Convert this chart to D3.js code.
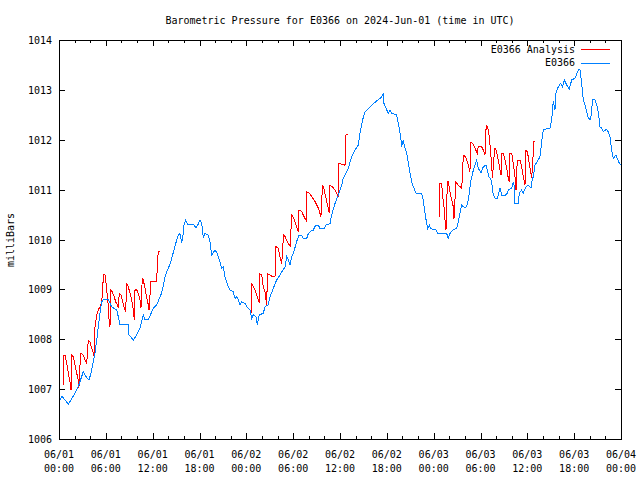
<!DOCTYPE html>
<html>
<head>
<meta charset="utf-8">
<script src="https://cdn.jsdelivr.net/npm/d3@7"></script>
<style>
  body { margin: 0; background: #fff; }
  text { font-family: "DejaVu Sans Mono", "Liberation Mono", monospace; font-size: 10px; fill: #000; }
</style>
</head>
<body>
<svg id="chart" width="640" height="480"></svg>
<script>
const chartTitle = "Barometric Pressure for E0366 on 2024-Jun-01 (time in UTC)";
const seriesNames = ["E0366 Analysis", "E0366"];
const seriesColors = ["#ff0000", "#0080ff"];
const yTicks = [1006, 1007, 1008, 1009, 1010, 1011, 1012, 1013, 1014];
const startTime = Date.UTC(2024, 5, 1);

// observed station pressure, hours since 06/01 00:00 UTC
const obsHours = [
  0, 0.13, 0.38, 1.19, 1.54, 2.05, 2.47, 3.11, 3.33, 3.84, 4.1, 4.61, 4.83, 5.25, 5.47, 5.68,
  6.32, 6.75, 7.39, 7.6, 7.81, 8.88, 8.97, 9.52, 9.95, 10.38, 10.8, 11.02, 11.44, 11.88, 12.08,
  12.52, 13.16, 13.58, 14, 14.22, 14.64, 15.08, 15.27, 15.5, 15.72, 15.93, 16.01, 16.23, 16.44,
  17.21, 17.55, 17.85, 18.06, 18.28, 18.49, 18.7, 19.13, 19.34, 19.56, 19.98, 20.28, 20.63,
  20.84, 21.05, 21.27, 21.69, 21.91, 22.33, 22.55, 22.76, 22.97, 23.19, 23.41, 23.83, 24.05,
  24.47, 24.69, 24.89, 25.24, 25.4, 25.66, 26.17, 26.39, 26.81, 27.03, 27.45, 27.89, 28.31,
  28.53, 28.95, 29.17, 29.38, 29.59, 29.81, 30.02, 30.45, 30.75, 31.09, 31.3, 31.73, 31.94,
  32.37, 32.58, 32.89, 33.22, 33.44, 33.95, 34.2, 34.72, 34.93, 35.36, 35.78, 36.22, 36.42,
  37.06, 37.5, 37.92, 38.34, 38.56, 38.9, 39.2, 39.84, 40.48, 40.87, 41.12, 41.34, 41.55,
  41.63, 41.98, 42.19, 42.4, 42.62, 43.26, 43.47, 43.77, 43.9, 44.11, 44.32, 44.54, 44.75,
  44.97, 45.18, 45.39, 45.74, 46.46, 46.67, 46.89, 47.1, 47.23, 47.44, 47.62, 47.95, 48.3,
  48.51, 49.67, 49.87, 50.09, 50.44, 50.95, 51.15, 51.37, 51.59, 51.79, 52.01, 52.23, 52.43,
  52.56, 52.74, 53.08, 53.51, 53.72, 54.06, 54.36, 54.7, 54.87, 55.09, 55.21, 55.43, 55.64,
  55.86, 56.15, 56.28, 56.5, 56.71, 57.14, 57.43, 57.56, 57.99, 58.2, 58.33, 58.42, 58.84,
  58.97, 59.27, 59.48, 59.83, 60.12, 60.47, 60.56, 60.76, 60.98, 61.27, 61.62, 61.84, 62.04,
  62.68, 62.9, 63.12, 63.32, 63.54, 63.67, 63.96, 64.27, 64.53, 64.73, 65.04, 65.37, 65.68,
  66.1, 66.53, 66.74, 66.96, 67.17, 67.38, 67.6, 67.81, 68.11, 68.37, 68.67, 68.88, 69.09,
  69.31, 69.52, 69.73, 70.16, 70.37, 70.59, 70.8, 71.01, 71.36, 71.52, 71.78, 72
];
const obsPressure = [
  1006.72, 1006.78, 1006.86, 1006.7, 1006.78, 1006.92, 1007.05, 1007.35, 1007.28, 1007.18, 1007.32, 1007.72, 1007.98, 1008.53, 1008.75, 1008.79,
  1008.79, 1008.65, 1008.59, 1008.45, 1008.29, 1008.29, 1008.09, 1007.98, 1008.09, 1008.22, 1008.49, 1008.39, 1008.39, 1008.55, 1008.62,
  1008.69, 1008.93, 1009.25, 1009.43, 1009.5, 1009.74, 1009.99, 1010.09, 1010.12, 1009.93, 1010.12, 1010.29, 1010.39, 1010.31,
  1010.31, 1010.23, 1010.31, 1010.39, 1010.32, 1010.03, 1010.12, 1010.09, 1009.96, 1009.69, 1009.79, 1009.72, 1009.55,
  1009.42, 1009.45, 1009.25, 1009.05, 1008.99, 1008.95, 1008.82, 1008.85, 1008.79, 1008.69, 1008.75, 1008.72, 1008.65,
  1008.59, 1008.42, 1008.49, 1008.45, 1008.29, 1008.49, 1008.52, 1008.65, 1008.69, 1008.85, 1009.02, 1009.19, 1009.29,
  1009.35, 1009.45, 1009.66, 1009.59, 1009.49, 1009.66, 1009.72, 1009.96, 1010.09, 1010.09, 1010.02, 1010.02, 1010.12,
  1010.19, 1010.19, 1010.29, 1010.29, 1010.22, 1010.22, 1010.29, 1010.32, 1010.49, 1010.72, 1010.89, 1011.09, 1011.23,
  1011.43, 1011.66, 1011.79, 1011.89, 1012.13, 1012.4, 1012.55, 1012.65, 1012.75, 1012.8, 1012.83, 1012.86, 1012.93,
  1012.73, 1012.6, 1012.53, 1012.6, 1012.53, 1012.5, 1012.33, 1012.06, 1011.86, 1011.99, 1011.83, 1011.73, 1011.53,
  1011.33, 1011.16, 1011.06, 1010.93, 1010.93, 1010.79, 1010.53, 1010.32, 1010.22, 1010.29, 1010.22, 1010.2, 1010.19,
  1010.12, 1010.12, 1010.02, 1010.12, 1010.19, 1010.22, 1010.36, 1010.53, 1010.69, 1010.66, 1010.63, 1010.66, 1010.79,
  1010.93, 1011.16, 1011.39, 1011.59, 1011.43, 1011.33, 1011.46, 1011.49, 1011.39, 1011.26, 1011.23, 1011.16, 1010.89,
  1010.83, 1010.83, 1010.89, 1011.03, 1010.89, 1010.88, 1010.93, 1010.99, 1011.03, 1011.16, 1011.06, 1010.72, 1010.72,
  1010.93, 1010.99, 1010.93, 1011.06, 1011.09, 1011.03, 1011.16, 1011.26, 1011.49, 1011.56, 1011.66, 1011.96, 1012.2,
  1012.23, 1012.23, 1012.4, 1012.77, 1012.6, 1012.93, 1013.06, 1013.13, 1013.06, 1013.2, 1013.1, 1013.01, 1013.2,
  1013.23, 1013.4, 1013.4, 1013.13, 1012.8, 1012.7, 1012.56, 1012.43, 1012.4, 1012.8, 1012.8, 1012.7, 1012.56,
  1012.26, 1012.23, 1012.16, 1012.21, 1012.16, 1012.06, 1011.79, 1011.63, 1011.69, 1011.63, 1011.53, 1011.5
];

// analysis values (null = no analysis, breaks the line)
const anaHours = [
  0.55, 0.55, 0.77, 0.99, 1.19, 1.41, 1.54, 1.63, 1.83, 2.05, 2.27, 2.47, 2.56, 2.6, 2.82, 3.11,
  3.33, 3.55, 3.75, 3.97, 4.19, 4.39, 4.52, 4.61, 4.83, 5.03, 5.25, 5.47, 5.6, 5.68, 5.89, 5.98,
  6.11, 6.24, 6.32, 6.44, 6.53, 6.66, 6.83, 7.08, 7.26, 7.47, 7.6, 7.72, 7.94, 8.11, 8.33, 8.54,
  8.67, 8.88, 9.1, 9.31, 9.52, 9.65, 9.74, 9.95, 10.16, 10.38, 10.5, 10.67, 10.8, 11.02, 11.23,
  11.44, 11.53, 11.66, 11.75, 12.52, 12.59, 12.72, 12.94, 18,
  24.6, 24.6, 24.81, 25.11, 25.33, 25.53, 25.66, 25.75, 25.97, 26.17, 26.39, 26.52, 26.61,
  26.7, 27.03, 27.38, 27.67, 27.8, 28.09, 28.31, 28.53, 28.66, 28.74, 28.95, 29.25, 29.5,
  29.68, 29.72, 29.81, 30.1, 30.36, 30.66, 30.75, 31.09, 31.39, 31.73, 31.73, 32.07, 32.37,
  32.8, 33.22, 33.56, 33.65, 33.78, 33.99, 34.2, 34.5, 34.63, 34.72, 35.01, 35.36, 35.58,
  35.78, 35.78, 36.22, 36.64, 36.77, 36.98, 42,
  48.72, 48.72, 49.03, 49.15, 49.32, 49.45, 49.58, 49.67, 49.75, 49.87, 50.09, 50.31, 50.51,
  50.6, 50.73, 50.82, 51.15, 51.59, 51.72, 51.79, 52.1, 52.43, 52.65, 52.74, 53, 53.29, 53.59,
  53.72, 54.15, 54.45, 54.57, 54.7, 54.79, 55, 55.13, 55.31, 55.43, 55.56, 55.64, 55.86, 56.07,
  56.28, 56.5, 56.63, 56.71, 56.92, 57.14, 57.35, 57.56, 57.69, 57.78, 57.99, 58.2, 58.42,
  58.55, 58.71, 59.06, 59.27, 59.48, 59.7, 59.83, 59.99, 60.12, 60.34, 60.56, 60.76, 60.85, 60.98
];
const anaPressure = [
  1007.08, 1007.68, 1007.68, 1007.52, 1007.32, 1007.15, 1006.98, 1007.68, 1007.65, 1007.48, 1007.32, 1007.18, 1007.02, 1007.32, 1007.72, 1007.68,
  1007.58, 1007.52, 1007.98, 1007.95, 1007.82, 1007.72, 1007.65, 1008.25, 1008.49, 1008.59, 1008.65, 1008.75, 1008.99, 1009.29, 1009.29, 1009.19,
  1008.99, 1008.79, 1008.65, 1008.32, 1008.25, 1008.99, 1008.95, 1008.85, 1008.75, 1008.69, 1008.62, 1008.92, 1008.89, 1008.79, 1008.65, 1008.55,
  1009.12, 1009.05, 1008.92, 1008.79, 1008.59, 1008.39, 1008.99, 1008.99, 1008.92, 1008.79, 1008.62, 1009.22, 1009.19, 1009.02, 1008.85,
  1008.69, 1008.59, 1008.89, 1009.15, 1009.15, 1009.49, 1009.76, 1009.76, null,
  1008.52, 1009.12, 1009.09, 1008.99, 1008.89, 1008.79, 1008.72, 1009.31, 1009.29, 1009.05, 1008.95, 1008.79, 1008.69,
  1009.31, 1009.29, 1009.25, 1009.25, 1009.86, 1009.82, 1009.66, 1009.52, 1009.79, 1010.09, 1010.06, 1009.96, 1009.89,
  1009.86, 1010.19, 1010.49, 1010.42, 1010.29, 1010.16, 1010.59, 1010.56, 1010.46, 1010.36, 1010.96, 1010.93, 1010.86,
  1010.76, 1010.63, 1010.46, 1010.79, 1011.09, 1010.99, 1010.83, 1010.63, 1010.53, 1011.09, 1011.06, 1010.99, 1010.93,
  1010.86, 1011.53, 1011.51, 1011.49, 1012.1, 1012.1, null,
  1010.46, 1011.13, 1011.13, 1010.86, 1010.66, 1010.39, 1010.19, 1010.66, 1011.16, 1011.16, 1010.96, 1010.79, 1010.66,
  1010.42, 1010.79, 1011.16, 1011.09, 1011.03, 1011.36, 1011.69, 1011.66, 1011.49, 1011.36, 1011.95, 1011.93, 1011.83, 1011.73,
  1011.87, 1011.86, 1011.76, 1011.69, 1012.2, 1012.3, 1012.2, 1012.06, 1011.73, 1011.46, 1011.23, 1011.53, 1011.83, 1011.76,
  1011.59, 1011.39, 1011.29, 1011.73, 1011.73, 1011.59, 1011.43, 1011.23, 1011.16, 1011.73, 1011.73, 1011.53, 1011.26,
  1010.99, 1011.59, 1011.59, 1011.46, 1011.26, 1011.09, 1011.79, 1011.76, 1011.66, 1011.43, 1011.23, 1011.73, 1011.96, 1011.96
];

const svg = d3.select("#chart");
const plot = { left: 59, right: 621, top: 40, bottom: 439 };

svg.append("rect").attr("width", 640).attr("height", 480).attr("fill", "#fff");

const toDate = (h) => new Date(startTime + h * 3600 * 1000);
const x = d3.scaleUtc()
  .domain([toDate(0), toDate(72)])
  .range([plot.left, plot.right]);
const y = d3.scaleLinear()
  .domain([1006, 1014])
  .range([plot.bottom, plot.top]);

// title and y label
svg.append("text")
  .attr("x", 340).attr("y", 24)
  .attr("text-anchor", "middle")
  .text(chartTitle);
svg.append("text")
  .attr("transform", "translate(14,240) rotate(-90)")
  .attr("text-anchor", "middle")
  .text("milliBars");

// ticks: inward on all four sides
const ticks = svg.append("g").attr("stroke", "#000").attr("shape-rendering", "crispEdges");
yTicks.forEach((v) => {
  const py = Math.round(y(v)) + 0.5;
  ticks.append("line").attr("x1", plot.left).attr("x2", plot.left + 6).attr("y1", py).attr("y2", py);
  ticks.append("line").attr("x1", plot.right - 6).attr("x2", plot.right).attr("y1", py).attr("y2", py);
  svg.append("text")
    .attr("x", plot.left - 7).attr("y", py)
    .attr("dy", "0.35em")
    .attr("text-anchor", "end")
    .text(v);
});

const minorHours = d3.range(0, 73, 2);
minorHours.forEach((h) => {
  const px = Math.round(x(toDate(h))) + 0.5;
  const len = h % 6 === 0 ? 6 : 3;
  ticks.append("line").attr("x1", px).attr("x2", px).attr("y1", plot.bottom - len).attr("y2", plot.bottom);
  ticks.append("line").attr("x1", px).attr("x2", px).attr("y1", plot.top).attr("y2", plot.top + len);
});

const fmtDay = d3.utcFormat("%m/%d");
const fmtTime = d3.utcFormat("%H:%M");
x.ticks(d3.utcHour.every(6)).forEach((d) => {
  const g = svg.append("text")
    .attr("x", x(d))
    .attr("text-anchor", "middle");
  g.append("tspan").attr("x", x(d)).attr("y", 458).text(fmtDay(d));
  g.append("tspan").attr("x", x(d)).attr("y", 472).text(fmtTime(d));
});

// series
const anaLine = d3.line()
  .defined((d) => d[1] !== null)
  .x((d) => x(toDate(d[0])))
  .y((d) => y(d[1]));
svg.append("path")
  .datum(anaHours.map((h, i) => [h, anaPressure[i]]))
  .attr("d", anaLine)
  .attr("fill", "none")
  .attr("stroke", seriesColors[0])
  .attr("stroke-width", 1)
  .attr("shape-rendering", "crispEdges");
svg.append("path")
  .datum(obsHours.map((h, i) => [h, obsPressure[i]]))
  .attr("d", anaLine)
  .attr("fill", "none")
  .attr("stroke", seriesColors[1])
  .attr("stroke-width", 1)
  .attr("shape-rendering", "crispEdges");

// frame
svg.append("rect")
  .attr("x", plot.left + 0.5).attr("y", plot.top + 0.5)
  .attr("width", plot.right - plot.left).attr("height", plot.bottom - plot.top)
  .attr("fill", "none").attr("stroke", "#000")
  .attr("shape-rendering", "crispEdges");

// legend
seriesNames.forEach((name, i) => {
  const ly = 49 + i * 13.5;
  svg.append("text")
    .attr("x", 575).attr("y", ly)
    .attr("dy", "0.35em")
    .attr("text-anchor", "end")
    .text(name);
  svg.append("line")
    .attr("x1", 581).attr("x2", 610)
    .attr("y1", Math.round(ly) + 0.5).attr("y2", Math.round(ly) + 0.5)
    .attr("stroke", seriesColors[i])
    .attr("shape-rendering", "crispEdges");
});
</script>
</body>
</html>
